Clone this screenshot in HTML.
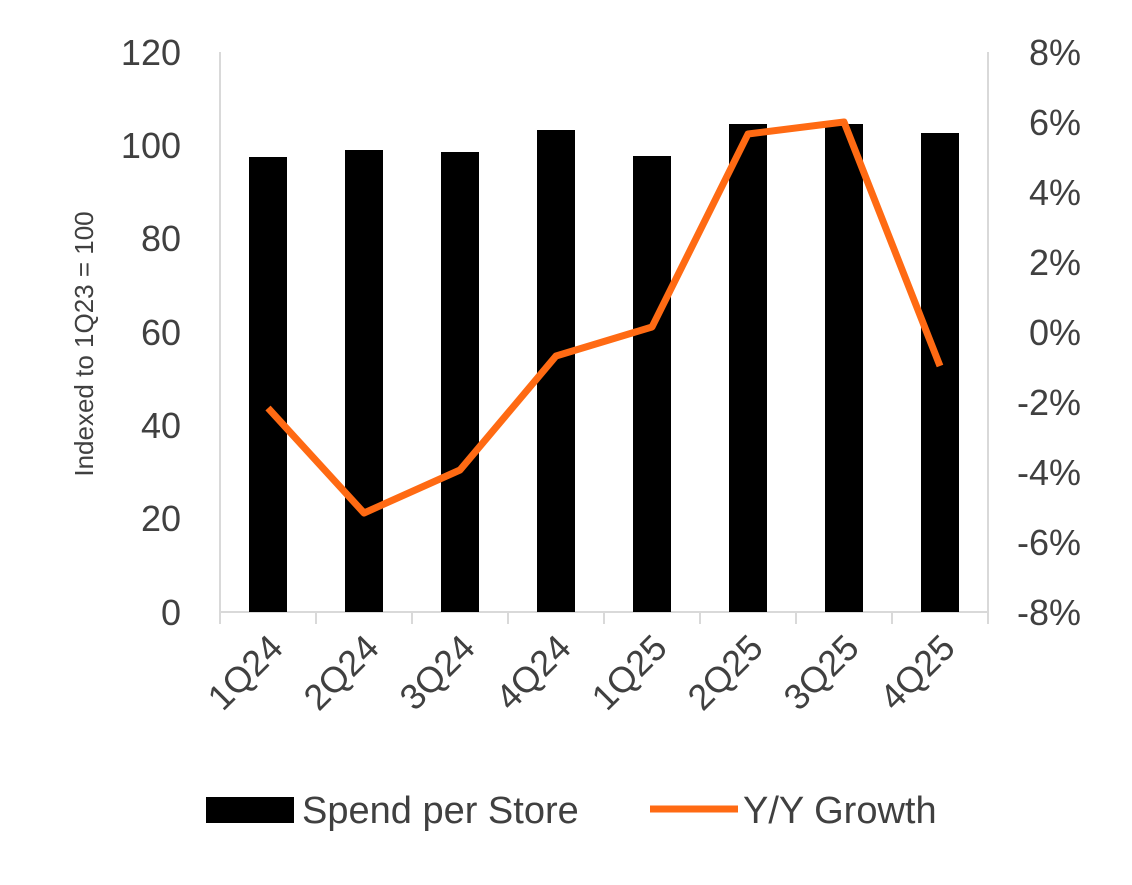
<!DOCTYPE html>
<html><head><style>body{margin:0;background:#fff}</style></head><body>
<svg width="1132" height="880" xmlns="http://www.w3.org/2000/svg" font-family="Liberation Sans, sans-serif" fill="#404040">
<line x1="220" y1="52" x2="220" y2="612" stroke="#d9d9d9" stroke-width="2"/>
<line x1="988" y1="52" x2="988" y2="612" stroke="#d9d9d9" stroke-width="2"/>
<line x1="220" y1="612" x2="988" y2="612" stroke="#d9d9d9" stroke-width="2"/>
<g stroke="#d9d9d9" stroke-width="2">
<line x1="220" y1="612" x2="220" y2="624"/><line x1="316" y1="612" x2="316" y2="624"/><line x1="412" y1="612" x2="412" y2="624"/><line x1="508" y1="612" x2="508" y2="624"/><line x1="604" y1="612" x2="604" y2="624"/><line x1="700" y1="612" x2="700" y2="624"/><line x1="796" y1="612" x2="796" y2="624"/><line x1="892" y1="612" x2="892" y2="624"/><line x1="988" y1="612" x2="988" y2="624"/>
</g>
<g fill="#000">
<rect x="249" y="157" width="38" height="455"/><rect x="345" y="150" width="38" height="462"/><rect x="441" y="152" width="38" height="460"/><rect x="537" y="130" width="38" height="482"/><rect x="633" y="156" width="38" height="456"/><rect x="729" y="124" width="38" height="488"/><rect x="825" y="124" width="38" height="488"/><rect x="921" y="133" width="38" height="479"/>
</g>
<polyline points="268,408 364,513 460,470 556,356 652,327 748,134 844,122 940,366" fill="none" stroke="#FF6A13" stroke-width="7" stroke-linejoin="round"/>
<g font-size="36" text-anchor="end">
<text x="181" y="65">120</text><text x="181" y="158">100</text><text x="181" y="251">80</text><text x="181" y="345">60</text><text x="181" y="438">40</text><text x="181" y="531">20</text><text x="181" y="625">0</text>
</g>
<g font-size="36" text-anchor="end">
<text x="1081" y="65">8%</text><text x="1081" y="135">6%</text><text x="1081" y="205">4%</text><text x="1081" y="275">2%</text><text x="1081" y="345">0%</text><text x="1081" y="415">-2%</text><text x="1081" y="485">-4%</text><text x="1081" y="555">-6%</text><text x="1081" y="625">-8%</text>
</g>
<text transform="translate(93,344) rotate(-90)" font-size="26" text-anchor="middle">Indexed to 1Q23 = 100</text>
<g font-size="36" text-anchor="end">
<text transform="translate(285,650) rotate(-45)">1Q24</text>
<text transform="translate(381,650) rotate(-45)">2Q24</text>
<text transform="translate(477,650) rotate(-45)">3Q24</text>
<text transform="translate(573,650) rotate(-45)">4Q24</text>
<text transform="translate(669,650) rotate(-45)">1Q25</text>
<text transform="translate(765,650) rotate(-45)">2Q25</text>
<text transform="translate(861,650) rotate(-45)">3Q25</text>
<text transform="translate(957,650) rotate(-45)">4Q25</text>
</g>
<rect x="206" y="797" width="88" height="26" fill="#000"/>
<text x="302" y="823" font-size="38">Spend per Store</text>
<line x1="650" y1="809" x2="738" y2="809" stroke="#FF6A13" stroke-width="7"/>
<text x="743" y="823" font-size="38">Y/Y Growth</text>
</svg>
</body></html>
